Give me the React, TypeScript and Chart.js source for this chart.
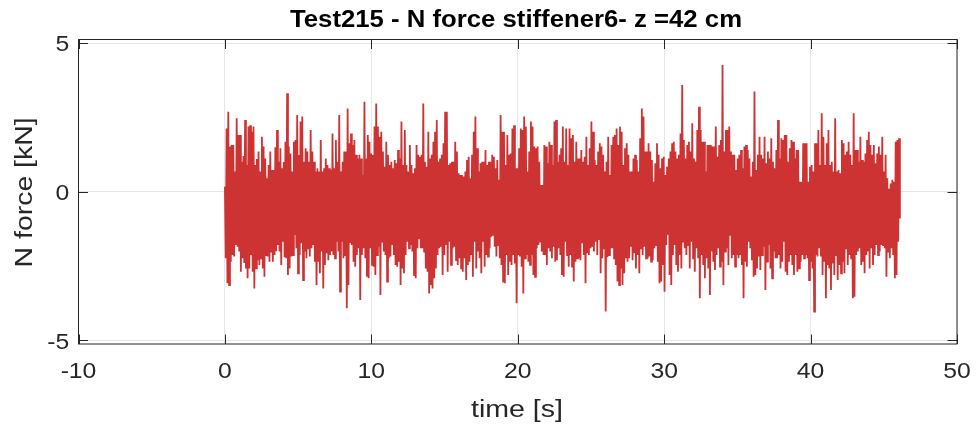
import React, { useEffect, useRef } from "react";
import { Chart, registerables } from "chart.js";
Chart.register(...registerables);

const TITLE = "Test215 - N force stiffener6- z =42 cm";
const X_LABEL = "time [s]";
const Y_LABEL = "N force [kN]";
const X_TICKS = [-10, 0, 10, 20, 30, 40, 50];
const Y_TICKS = [-5, 0, 5];
const X_MIN = -10;
const X_MAX = 50;
const Y_MIN = -5.12;
const Y_MAX = 5.12;
const T_END = 46.1;

// upper peaks of the N force signal, read left to right [kN]
const PEAKS_HIGH = [
  0.17, 2.13, 2.69, 1.52, 1.57, 1.57, 0.68, 2.47, 1.91, 1.91,
  1.01, 1.20, 2.41, 0.90, 2.19, 2.24, 2.02, 2.19, 0.90, 1.10,
  1.35, 0.68, 1.85, 1.52, 1.12, 0.45, 0.90, 1.35, 0.73, 0.73,
  1.50, 2.08, 1.01, 1.46, 0.79, 1.00, 1.68, 3.31, 1.52, 1.29,
  0.68, 1.68, 1.74, 2.58, 1.24, 2.36, 2.53, 1.01, 1.46, 1.35,
  1.01, 2.08, 1.35, 1.01, 0.68, 0.79, 0.68, 1.74, 0.68, 0.79,
  1.12, 0.90, 0.79, 0.73,
  1.96, 0.79, 1.74, 1.01, 2.58, 0.68, 1.01, 1.35, 1.35, 2.80,
  1.63, 1.96, 1.57, 1.74, 1.24, 1.12, 1.24, 1.12, 0.56, 3.03,
  1.12, 1.91, 1.68, 1.29, 1.24, 2.19, 2.97, 2.19, 1.85, 2.02,
  1.35, 0.84, 1.68, 1.24, 0.90, 1.01, 0.79, 1.07, 0.96, 1.40,
  1.12, 2.36, 0.90, 2.08, 0.90, 0.68, 1.57, 0.90, 0.62, 0.79,
  1.57, 1.24, 1.18, 1.24, 2.97, 1.01, 0.84, 2.02, 1.12, 1.24,
  1.68, 2.02, 2.41, 1.01, 1.12, 1.24, 1.63, 2.69,
  2.69, 0.90, 0.96, 1.01, 1.01, 1.68, 1.35, 0.62, 0.56, 0.56,
  0.51, 0.68, 1.07, 1.18, 0.45, 1.24, 2.02, 2.53, 1.46, 0.68,
  0.96, 1.01, 1.01, 1.40, 0.90, 1.01, 1.01, 1.24, 1.18, 0.79,
  1.07, 0.40, 2.58, 2.02, 2.02, 0.90, 1.91, 1.24, 1.29, 2.13,
  2.24, 0.79, 0.79, 1.46, 2.13, 2.08, 2.53, 2.19, 0.68, 1.35,
  2.36, 2.19, 1.52, 1.46, 1.52, 1.01, 0.23, 0.23, 1.57, 1.52,
  0.96, 1.68, 1.57, 0.90, 2.36, 2.41, 1.01, 1.24, 1.46,
  2.19, 1.01, 2.13, 0.90, 2.13, 1.80, 1.91, 1.01, 1.68, 1.12,
  1.12, 1.40, 1.01, 1.18, 1.85, 0.90, 1.46, 2.36, 2.02, 1.07,
  0.90, 1.35, 1.63, 1.52, 1.24, 0.68, 1.01, 1.85, 0.56, 1.57,
  1.85, 1.91, 2.13, 1.57, 2.19, 2.02, 0.90, 1.46, 1.63, 1.24,
  0.68, 0.68, 1.12, 1.24, 1.07, 0.68, 1.80, 2.80, 2.53, 1.35,
  1.35, 1.63, 1.35, 1.07, 0.34, 0.96, 1.63, 1.24, 0.79, 1.12,
  1.18, 0.56, 0.84, 1.12, 1.35, 1.63, 1.68, 1.35, 1.12,
  1.24, 1.96, 3.59, 1.74, 1.12, 1.57, 1.68, 1.35, 2.30, 1.12,
  1.01, 2.08, 2.86, 2.08, 1.68, 1.68, 0.68, 1.57, 1.57, 1.57,
  1.52, 1.52, 2.19, 1.18, 1.57, 1.74, 4.26, 1.35, 2.08, 2.08,
  2.19, 1.35, 1.24, 1.24, 0.73, 1.12, 1.24, 1.40, 0.79, 1.52,
  1.57, 1.40, 1.12, 0.51, 1.01, 3.37, 0.73, 1.24, 1.85, 1.24,
  1.12, 1.85, 0.96, 1.35, 1.12, 1.80, 1.01, 0.79, 1.40, 2.41,
  1.12, 1.80, 1.74, 1.91, 1.91, 1.01, 1.46, 1.74, 1.68,
  1.12, 1.40, 1.40, 0.34, 0.34, 1.63, 1.63, 1.63, 0.34, 0.84,
  0.90, 0.68, 1.63, 1.63, 2.08, 0.90, 2.64, 1.85, 0.90, 1.63,
  2.08, 0.90, 1.01, 0.68, 2.47, 0.68, 0.73, 0.62, 1.74, 1.63,
  1.24, 1.35, 1.68, 1.24, 0.90, 2.64, 1.40, 1.40, 1.01, 1.85,
  1.07, 1.01, 1.29, 1.74, 2.02, 1.57, 1.24, 1.57, 0.96, 1.29,
  1.52, 1.24, 1.85, 0.68, 1.24, 0.45, 0.10, 0.28, 0.40, 0.34,
  1.68, 1.74, 1.80,
];

// lower peaks of the N force signal, read left to right [kN]
const PEAKS_LOW = [
  -2.24, -3.08, -3.14, -2.35, -2.13, -2.18, -1.79, -1.85, -2.01, -2.69,
  -2.24, -2.40, -2.58, -2.91, -2.58, -2.13, -2.69, -3.25, -2.58, -2.30,
  -2.46, -2.24, -2.58, -2.86, -2.13, -2.18, -2.35, -2.01, -2.35, -2.13,
  -2.00, -1.79, -2.01, -2.46, -1.68, -2.20, -2.24, -2.80, -2.58, -2.18,
  -2.13, -1.45, -1.90, -2.74, -2.13, -1.73, -2.97, -2.01, -2.24, -1.90,
  -2.18, -1.90, -1.79, -2.35, -3.14, -2.35, -2.74, -2.01, -3.25, -2.46,
  -2.07, -2.30, -2.13, -2.01,
  -2.13, -2.24, -1.68, -2.01, -3.36, -1.68, -2.24, -2.13, -3.92, -3.14,
  -1.73, -1.79, -2.35, -2.52, -2.13, -1.90, -3.64, -2.13, -1.90, -2.24,
  -2.86, -2.91, -1.90, -2.46, -2.52, -2.80, -2.13, -1.85, -3.47, -1.68,
  -2.01, -2.13, -3.02, -2.24, -2.18, -1.79, -2.13, -2.46, -2.52, -2.35,
  -3.14, -2.58, -2.74, -2.13, -1.68, -1.90, -1.79, -2.01, -2.80, -2.91,
  -1.90, -1.57, -1.90, -1.90, -2.01, -2.58, -2.69, -3.42, -3.14, -3.25,
  -2.91, -2.58, -2.13, -1.90, -1.85, -2.80, -2.13, -1.79,
  -2.69, -1.68, -2.46, -1.90, -1.85, -2.30, -2.46, -2.24, -2.58, -2.69,
  -2.24, -2.97, -2.46, -2.35, -2.13, -2.86, -1.68, -2.58, -2.01, -2.24,
  -2.74, -1.68, -2.52, -2.13, -2.18, -1.90, -1.51, -1.45, -1.85, -2.18,
  -1.79, -2.24, -2.46, -3.02, -3.08, -2.13, -2.80, -2.35, -2.46, -2.13,
  -2.41, -3.75, -2.13, -2.18, -2.52, -3.42, -2.24, -2.13, -2.35, -2.46,
  -2.13, -2.80, -2.86, -1.90, -1.79, -1.68, -2.01, -2.13, -2.13, -2.46,
  -1.90, -2.01, -2.24, -1.85, -2.35, -2.30, -1.90, -2.13, -2.80,
  -2.86, -1.68, -2.13, -2.52, -2.13, -2.52, -3.02, -2.35, -2.24, -2.24,
  -2.30, -1.73, -2.13, -3.08, -2.07, -2.13, -1.90, -1.85, -2.01, -1.68,
  -2.13, -1.62, -2.74, -2.24, -1.90, -4.03, -2.20, -2.13, -1.90, -1.90,
  -2.24, -2.46, -3.02, -3.14, -2.58, -3.14, -2.74, -2.24, -2.35, -2.24,
  -1.85, -2.30, -2.07, -2.58, -2.13, -2.74, -1.90, -2.13, -1.85, -2.24,
  -2.24, -2.18, -2.35, -2.30, -1.90, -1.79, -2.35, -3.08, -3.02, -2.46,
  -3.36, -1.79, -1.45, -2.80, -3.14, -2.13, -1.79, -2.46, -2.69,
  -2.13, -2.58, -1.68, -1.90, -2.13, -1.79, -2.58, -1.68, -2.24, -2.69,
  -1.90, -2.24, -3.58, -2.13, -2.46, -2.91, -2.24, -2.58, -3.47, -2.01,
  -2.35, -2.63, -2.13, -1.90, -2.52, -2.35, -3.14, -2.01, -1.90, -2.46,
  -1.45, -2.24, -2.13, -2.52, -2.13, -2.24, -2.13, -2.46, -3.58, -2.35,
  -2.52, -1.68, -1.90, -2.30, -2.86, -2.80, -2.58, -2.18, -2.63, -2.13,
  -1.85, -3.30, -2.35, -1.79, -2.58, -2.91, -2.01, -2.24, -2.24, -2.13,
  -2.58, -2.35, -1.68, -2.69, -2.80, -2.35, -2.13, -2.46, -2.80,
  -2.13, -2.69, -2.58, -2.35, -2.13, -2.24, -2.13, -2.24, -2.97, -2.35,
  -2.58, -4.03, -2.13, -2.18, -1.90, -2.18, -2.80, -2.35, -3.58, -2.46,
  -2.58, -3.30, -2.41, -2.80, -2.13, -2.97, -2.46, -2.74, -2.35, -2.74,
  -1.90, -2.46, -2.13, -2.24, -3.58, -3.53, -2.13, -2.01, -1.90, -2.46,
  -2.35, -2.74, -2.13, -2.01, -2.58, -1.90, -2.46, -2.13, -1.79, -2.13,
  -2.01, -1.79, -1.79, -1.90, -2.86, -2.01, -2.24, -1.90, -2.13, -2.91,
  -2.80, -1.68, -0.90,
];

const FONT = '"Liberation Sans", Arial, Helvetica, sans-serif';
const TEXT_COLOR = "#262626";

function drawText(
  ctx: CanvasRenderingContext2D,
  text: string,
  x: number,
  y: number,
  font: string,
  align: CanvasTextAlign,
  opts: { stretch?: number; width?: number; rotate?: number; color?: string }
) {
  ctx.save();
  ctx.font = font;
  ctx.fillStyle = opts.color || TEXT_COLOR;
  ctx.textAlign = align;
  ctx.textBaseline = "alphabetic";
  let sx = opts.stretch || 1;
  if (opts.width) sx = opts.width / ctx.measureText(text).width;
  ctx.translate(x, y);
  if (opts.rotate) ctx.rotate(opts.rotate);
  ctx.scale(sx, 1);
  ctx.fillText(text, 0, 0);
  ctx.restore();
}

const matlabAxes = {
  id: "matlabAxes",
  afterDatasetsDraw(chart: any) {
    const { ctx, chartArea: a, scales } = chart;
    const xs = scales.x;
    const ys = scales.y;
    ctx.save();
    ctx.strokeStyle = "#262626";
    ctx.lineWidth = 1;
    ctx.beginPath();
    const tl = 9.5;
    for (const v of X_TICKS) {
      const px = Math.round(xs.getPixelForValue(v)) + 0.5;
      ctx.moveTo(px, a.bottom);
      ctx.lineTo(px, a.bottom - tl);
      ctx.moveTo(px, a.top);
      ctx.lineTo(px, a.top + tl);
    }
    for (const v of Y_TICKS) {
      const py = Math.round(ys.getPixelForValue(v)) + 0.5;
      ctx.moveTo(a.left, py);
      ctx.lineTo(a.left + tl, py);
      ctx.moveTo(a.right, py);
      ctx.lineTo(a.right - tl, py);
    }
    ctx.stroke();
    ctx.strokeRect(a.left, a.top, a.right - a.left, a.bottom - a.top);
    ctx.restore();

    const tickFont = `21.5px ${FONT}`;
    for (const v of X_TICKS) {
      drawText(ctx, String(v), xs.getPixelForValue(v), 378.3, tickFont, "center", { stretch: 1.15 });
    }
    for (const v of Y_TICKS) {
      drawText(ctx, String(v), 69.2, ys.getPixelForValue(v) + 8.2, tickFont, "right", { stretch: 1.15 });
    }
    drawText(ctx, TITLE, 516, 26.6, `bold 23px ${FONT}`, "center", { width: 452, color: "#000000" });
    drawText(ctx, X_LABEL, 517, 416.6, `23.5px ${FONT}`, "center", { width: 92 });
    drawText(ctx, Y_LABEL, 31.8, 192.4, `23.5px ${FONT}`, "center", { width: 150, rotate: -Math.PI / 2 });
  },
};

export default function App() {
  const ref = useRef<HTMLCanvasElement>(null);
  useEffect(() => {
    document.body.style.margin = "0";
    const n = PEAKS_HIGH.length * 2;
    const pts: { x: number; y: number }[] = [];
    for (let k = 0; k < PEAKS_HIGH.length; k++) {
      pts.push({ x: ((2 * k) * T_END) / (n - 1), y: PEAKS_HIGH[k] });
      pts.push({ x: ((2 * k + 1) * T_END) / (n - 1), y: PEAKS_LOW[k] });
    }
    const chart = new Chart(ref.current as HTMLCanvasElement, {
      type: "line",
      data: {
        datasets: [
          {
            data: pts,
            borderColor: "#cd3333",
            borderWidth: 1.8,
            pointRadius: 0,
            tension: 0,
            fill: false,
          },
        ],
      },
      options: {
        animation: false,
        responsive: false,
        layout: { padding: { top: 39.5, right: 20, left: 0, bottom: 0 } },
        plugins: { legend: { display: false }, tooltip: { enabled: false }, title: { display: false } },
        scales: {
          x: {
            type: "linear",
            min: X_MIN,
            max: X_MAX,
            afterBuildTicks: (s: any) => {
              s.ticks = X_TICKS.map((v) => ({ value: v }));
            },
            afterFit: (s: any) => {
              s.height = 86;
            },
            ticks: { display: false },
            grid: { color: "#e6e6e6", lineWidth: 1, drawTicks: false },
            border: { display: false },
          },
          y: {
            type: "linear",
            min: Y_MIN,
            max: Y_MAX,
            afterBuildTicks: (s: any) => {
              s.ticks = Y_TICKS.map((v) => ({ value: v }));
            },
            afterFit: (s: any) => {
              s.width = 78.5;
            },
            ticks: { display: false },
            grid: { color: "#e6e6e6", lineWidth: 1, drawTicks: false },
            border: { display: false },
          },
        },
      },
      plugins: [matlabAxes],
    } as any);
    return () => chart.destroy();
  }, []);
  return (
    <div style={{ width: 977, height: 430 }}>
      <canvas ref={ref} width={977} height={430} style={{ display: "block" }} />
    </div>
  );
}
